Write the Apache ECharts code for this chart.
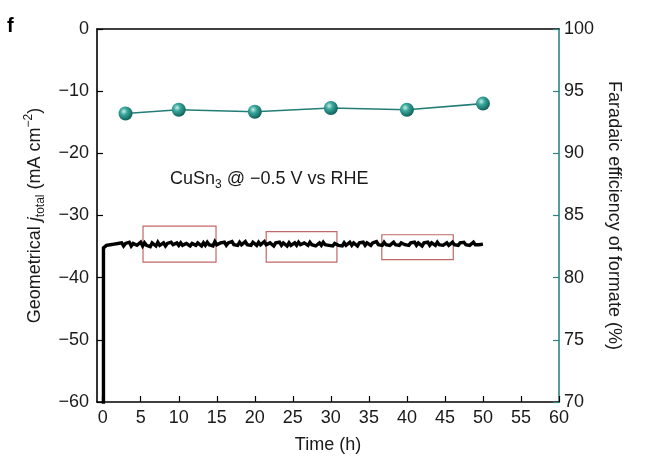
<!DOCTYPE html>
<html>
<head>
<meta charset="utf-8">
<script src="https://cdn.jsdelivr.net/npm/echarts@6/dist/echarts.min.js"></script>
<style>html,body{margin:0;padding:0;background:#fff}#c{width:650px;height:465px}</style>
</head>
<body>
<div id="c"></div>
<script>
// ---- data ----
const xTicks = [0, 5, 10, 15, 20, 25, 30, 35, 40, 45, 50, 55, 60];
const stepTime = [0.1, 0.1];
const stepCurrent = [-62, -35.2];
const traceStep = 0.25; // h between samples of the trace
const traceCurrent = [
  -35.1,-34.8,-35.0,-34.7,-34.9,-34.6,-34.9,-34.5,-34.8,-34.4,-34.9,-34.5,-34.8,-34.3,-34.9,-34.5,-34.3,-34.8,-34.5,-34.3,
  -34.9,-34.4,-34.8,-34.5,-35.0,-34.4,-34.7,-34.9,-34.3,-34.8,-34.5,-34.4,-34.9,-34.5,-34.8,-34.3,-34.7,-34.9,-34.4,-34.8,
  -34.4,-34.8,-35.0,-34.5,-34.4,-34.9,-34.5,-34.3,-34.8,-34.4,-34.7,-34.9,-34.4,-34.8,-34.3,-34.7,-34.4,-34.9,-34.2,-34.7,
  -34.8,-34.4,-34.7,-34.3,-34.8,-34.4,-34.7,-34.2,-34.7,-34.4,-34.8,-34.3,-34.7,-34.4,-34.2,-34.7,-34.4,-34.8,-34.3,-34.5,
  -34.8,-34.3,-34.7,-34.4,-34.2,-34.7,-34.8,-34.4,-34.7,-34.9,-34.4,-34.7,-34.3,-34.8,-34.4,-34.7,-34.9,-34.4,-34.8,-34.6,
  -34.4,-34.8,-34.3,-34.7,-34.9,-34.4,-34.7,-34.8,-34.3,-34.7,-34.4,-34.9,-34.6,-34.4,-34.8,-34.3,-34.7,-34.4,-34.8,-34.6,
  -34.9,-34.5,-34.4,-34.8,-34.5,-34.9,-34.4,-34.8,-34.5,-34.3,-34.8,-34.4,-34.7,-34.9,-34.4,-34.7,-34.3,-34.8,-34.4,-34.7,
  -34.8,-34.4,-34.7,-34.2,-34.7,-34.4,-34.8,-34.3,-34.7,-34.4,-34.8,-34.6,-34.3,-34.7,-34.4,-34.8,-34.4,-34.3,-34.7,-34.4,
  -34.8,-34.4,-34.7,-34.3,-34.8,-34.4,-34.7,-34.9,-34.4,-34.7,-34.3,-34.8,-34.4,-34.7,-34.8,-34.3,-34.7,-34.4,-34.8,-34.6,
  -34.4,-34.8,-34.6,-34.3,-34.7,-34.4,-34.8,-34.4,-34.7,-34.3,-34.7,-34.4,-34.8,-34.5,-34.3,-34.7,-34.4,-34.7,-34.4,-34.6
];
const feTime = [3, 10, 20, 30, 40, 50];
const feValue = [93.2, 93.5, 93.35, 93.65, 93.5, 94.0];
const boxStart = [5.3, 21.5, 36.7];
const boxEnd = [14.9, 30.8, 46.1];
const boxTop = [-31.7, -32.6, -33.1];
const boxBottom = [-37.5, -37.5, -37.1];

// ---- build ----
const currentData = stepTime.map((t, i) => [t, stepCurrent[i]]);
traceCurrent.forEach((v, i) => currentData.push([(i + 1) * traceStep, v]));
const feData = feTime.map((t, i) => [t, feValue[i]]);
const boxes = boxStart.map((s, i) => [{ xAxis: s, yAxis: boxTop[i] }, { xAxis: boxEnd[i], yAxis: boxBottom[i] }]);

const FONT = 'Liberation Sans, Arial, sans-serif';
const TXT = '#1a1a1a';
const TEAL = '#2a8580';
const FS = 18;

const chart = echarts.init(document.getElementById('c'));
chart.setOption({
  animation: false,
  textStyle: { fontFamily: FONT },
  grid: { left: 97, right: 91, top: 29, bottom: 63 },
  xAxis: [{
    type: 'value', min: -0.75, max: 60, position: 'bottom',
    name: 'Time (h)', nameLocation: 'middle', nameGap: 34,
    nameTextStyle: { fontSize: FS, color: TXT, fontFamily: FONT },
    axisLine: { onZero: false, lineStyle: { color: '#000', width: 1.6 } },
    axisTick: { inside: true, length: 6, customValues: xTicks, lineStyle: { color: '#000', width: 1.2 } },
    axisLabel: { customValues: xTicks, fontSize: FS, color: TXT, margin: 7, fontFamily: FONT },
    splitLine: { show: false }
  }, {
    type: 'value', min: -0.75, max: 60, position: 'top',
    axisLine: { onZero: false, lineStyle: { color: '#000', width: 1.6 } },
    axisTick: { show: false }, axisLabel: { show: false }, splitLine: { show: false }
  }],
  yAxis: [{
    type: 'value', min: -60, max: 0, interval: 10, position: 'left',
    name: '{n|Geometrical }{i|j}{s|total}{n| (mA cm}{p|−2}{n|)}',
    nameLocation: 'middle', nameRotate: 90, nameGap: 50,
    nameTextStyle: {
      color: TXT, fontFamily: FONT,
      rich: {
        n: { fontSize: FS, lineHeight: 24, verticalAlign: 'middle', color: TXT, fontFamily: FONT },
        i: { fontSize: FS, lineHeight: 24, verticalAlign: 'middle', fontStyle: 'italic', color: TXT, fontFamily: FONT },
        s: { fontSize: 12, lineHeight: 12, verticalAlign: 'bottom', color: TXT, fontFamily: FONT },
        p: { fontSize: 12, lineHeight: 12, verticalAlign: 'top', color: TXT, fontFamily: FONT }
      }
    },
    axisLine: { show: true, onZero: false, lineStyle: { color: '#000', width: 1.6 } },
    axisTick: { show: true, inside: true, length: 6, lineStyle: { color: '#000', width: 1.2 } },
    axisLabel: { fontSize: FS, color: TXT, margin: 8, fontFamily: FONT, formatter: v => String(v).replace('-', '\u2212') },
    splitLine: { show: false }
  }, {
    type: 'value', min: 70, max: 100, interval: 5, position: 'right',
    name: 'Faradaic efficiency of formate (%)',
    nameLocation: 'middle', nameRotate: -90, nameGap: 44,
    nameTextStyle: { fontSize: FS, color: TXT, fontFamily: FONT },
    axisLine: { show: true, onZero: false, lineStyle: { color: TEAL, width: 1.6 } },
    axisTick: { show: true, inside: true, length: 6, lineStyle: { color: TEAL, width: 1.2 } },
    axisLabel: { fontSize: FS, color: TXT, margin: 5, fontFamily: FONT },
    splitLine: { show: false }
  }],
  series: [{
    type: 'line', xAxisIndex: 0, yAxisIndex: 0, data: currentData,
    symbol: 'none', clip: true,
    lineStyle: { color: '#000', width: 3.4, join: 'miter' },
    markArea: {
      silent: true,
      itemStyle: { color: 'rgba(0,0,0,0)', borderColor: '#c0686a', borderWidth: 1.2 },
      data: boxes
    },
    z: 3
  }, {
    type: 'line', xAxisIndex: 0, yAxisIndex: 1, data: feData,
    symbol: 'circle', symbolSize: 14,
    lineStyle: { color: '#237d76', width: 1.6 },
    itemStyle: {
      color: {
        type: 'radial', x: 0.38, y: 0.35, r: 0.7,
        colorStops: [
          { offset: 0, color: '#c8efe9' },
          { offset: 0.35, color: '#3aa89d' },
          { offset: 1, color: '#0b5a53' }
        ]
      }
    },
    z: 4
  }],
  graphic: [{
    type: 'text', left: 7, top: 16,
    style: { text: 'f', fontSize: 20, fontWeight: 'bold', fill: '#000', fontFamily: FONT }
  }, {
    type: 'text', left: 170, top: 170,
    style: {
      text: '{a|CuSn}{s|3}{a| @ \u22120.5 V vs RHE}',
      fill: TXT, fontFamily: FONT,
      rich: {
        a: { fontSize: FS, lineHeight: 24, verticalAlign: 'middle', fill: TXT, fontFamily: FONT },
        s: { fontSize: 12, lineHeight: 12, verticalAlign: 'bottom', fill: TXT, fontFamily: FONT }
      }
    }
  }]
});
</script>
</body>
</html>
